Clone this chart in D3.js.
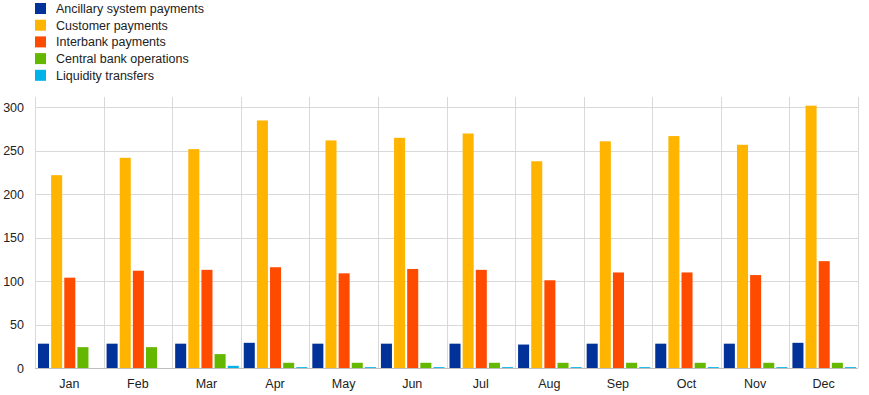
<!DOCTYPE html>
<html>
<head>
<meta charset="utf-8">
<script src="https://cdn.jsdelivr.net/npm/d3@7"></script>
<style>
  body { margin: 0; background: #fff; }
  text { font-family: Arial, "Liberation Sans", sans-serif; fill: #222; }
</style>
</head>
<body>
<svg id="chart" width="869" height="395"></svg>
<script>
const months = ["Jan", "Feb", "Mar", "Apr", "May", "Jun", "Jul", "Aug", "Sep", "Oct", "Nov", "Dec"];
const seriesNames = ["Ancillary system payments", "Customer payments", "Interbank payments", "Central bank operations", "Liquidity transfers"];
const colors = ["#003299", "#ffb400", "#ff4b00", "#65b800", "#00b1ea"];

const ancillary = [28, 28, 28, 29, 28, 28, 28, 27, 28, 28, 28, 29];
const customer  = [222, 242, 252, 285, 262, 265, 270, 238, 261, 267, 257, 302];
const interbank = [104, 112, 113, 116, 109, 114, 113, 101, 110, 110, 107, 123];
const centralBank = [24, 24, 16, 6, 6, 6, 6, 6, 6, 6, 6, 6];
const liquidity = [0, 0, 2.5, 1, 1, 1, 1, 1, 1, 1, 1, 1];
const yTicks = [0, 50, 100, 150, 200, 250, 300];

const seriesValues = [ancillary, customer, interbank, centralBank, liquidity];

const svg = d3.select("#chart"),
    margin = {top: 97, right: 11, bottom: 27, left: 35},
    width = +svg.attr("width") - margin.left - margin.right,
    height = +svg.attr("height") - margin.top - margin.bottom;

const x = d3.scaleBand().domain(months).range([0, width]);
const xInner = d3.scaleBand().domain(d3.range(5)).range([3, x.bandwidth() - 2]).paddingInner(0.16);
const y = d3.scaleLinear().domain([0, 312]).range([height, 0]);

const g = svg.append("g").attr("transform", "translate(" + margin.left + "," + margin.top + ")");

// horizontal grid
g.append("g").selectAll("line").data(yTicks).join("line")
    .attr("x1", 0).attr("x2", width)
    .attr("y1", d => Math.round(y(d)) + 0.5).attr("y2", d => Math.round(y(d)) + 0.5)
    .attr("stroke", "#d9d9d9");

// vertical grid at category boundaries
g.append("g").selectAll("line").data(months.concat(["end"])).join("line")
    .attr("x1", (d, i) => Math.round(i * x.step()) + 0.5)
    .attr("x2", (d, i) => Math.round(i * x.step()) + 0.5)
    .attr("y1", 0).attr("y2", height)
    .attr("stroke", "#d9d9d9");

// y labels
g.append("g").selectAll("text").data(yTicks).join("text")
    .attr("x", -11).attr("y", d => y(d) + 4.5)
    .attr("text-anchor", "end")
    .style("font-size", "12.5px")
    .text(d => d);

// bars
const rows = [];
months.forEach((m, i) => seriesValues.forEach((vals, s) => rows.push({m, s, v: vals[i]})));
g.append("g").selectAll("rect").data(rows.filter(d => d.v > 0)).join("rect")
    .attr("x", d => x(d.m) + xInner(d.s))
    .attr("width", xInner.bandwidth())
    .attr("y", d => y(d.v))
    .attr("height", d => height - y(d.v))
    .attr("fill", d => colors[d.s]);

// axis line
g.append("line")
    .attr("x1", 0).attr("x2", width)
    .attr("y1", height + 0.5).attr("y2", height + 0.5)
    .attr("stroke", "#bfbfbf");

// month labels
g.append("g").selectAll("text").data(months).join("text")
    .attr("x", d => x(d) + x.bandwidth() / 2)
    .attr("y", height + 20)
    .attr("text-anchor", "middle")
    .style("font-size", "12.5px")
    .text(d => d);

// legend
const legend = svg.append("g").attr("transform", "translate(35,3)");
const item = legend.selectAll("g").data(seriesNames).join("g")
    .attr("transform", (d, i) => "translate(0," + (i * 16.7) + ")");
item.append("rect").attr("width", 11).attr("height", 11).attr("fill", (d, i) => colors[i]);
item.append("text").attr("x", 21).attr("y", 10).style("font-size", "12.5px").text(d => d);
</script>
</body>
</html>
